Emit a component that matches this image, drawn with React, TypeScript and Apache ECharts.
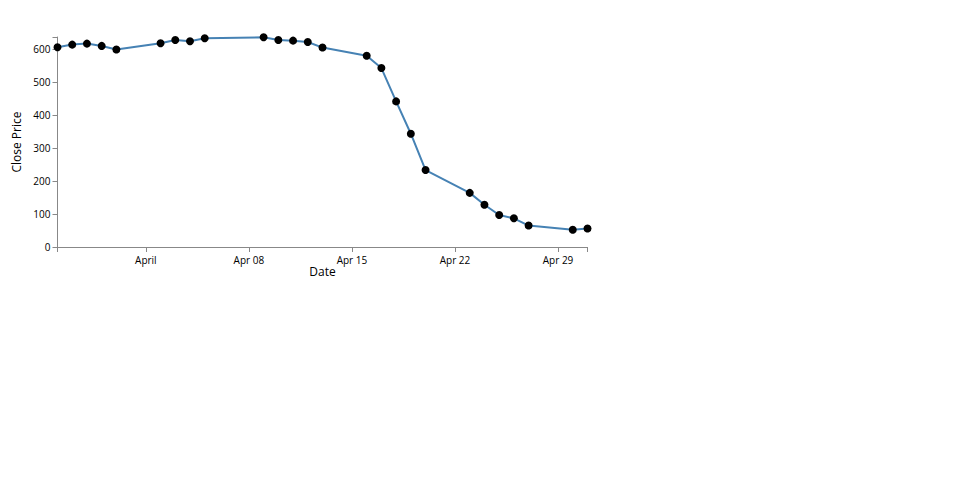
import React, { useEffect, useRef } from "react";
import * as echarts from "echarts";

const dates = [
  "2024-03-26", "2024-03-27", "2024-03-28", "2024-03-29", "2024-03-30",
  "2024-04-02", "2024-04-03", "2024-04-04", "2024-04-05",
  "2024-04-09", "2024-04-10", "2024-04-11", "2024-04-12", "2024-04-13",
  "2024-04-16", "2024-04-17", "2024-04-18", "2024-04-19", "2024-04-20",
  "2024-04-23", "2024-04-24", "2024-04-25", "2024-04-26", "2024-04-27",
  "2024-04-30", "2024-05-01",
];
const closePrices = [
  605, 613, 616, 609, 598,
  617, 627, 623, 632,
  635, 627, 625, 621, 604,
  579, 542, 441, 343, 233,
  164, 128, 97, 87, 65,
  52, 56,
];
const xDomain = ["2024-03-26", "2024-05-01"];
const xTickDates = ["2024-04-01", "2024-04-08", "2024-04-15", "2024-04-22", "2024-04-29"];
const xTickLabels = ["April", "Apr 08", "Apr 15", "Apr 22", "Apr 29"];
const yTicks = [0, 100, 200, 300, 400, 500, 600];
const yMax = 636;

export default function App() {
  const ref = useRef<HTMLDivElement>(null);
  useEffect(() => {
    if (!ref.current) return;
    const chart = echarts.init(ref.current, null, { renderer: "svg" });
    const ts = (d: string) => Date.parse(d);
    const labelMap: Record<number, string> = {};
    xTickDates.forEach((d, i) => (labelMap[ts(d)] = xTickLabels[i]));
    const font = "'Open Sans', 'Noto Sans', sans-serif";
    const axisColor = "#888";
    chart.setOption({
      animation: false,
      grid: { left: 57.5, top: 37, width: 530, height: 210, containLabel: false },
      xAxis: {
        type: "value",
        min: ts(xDomain[0]),
        max: ts(xDomain[1]),
        scale: true,
        name: "Date",
        nameLocation: "middle",
        nameGap: 14,
        nameTextStyle: { fontFamily: font, fontSize: 12, color: "#000" },
        axisLine: { show: true, lineStyle: { color: axisColor, width: 1 } },
        axisTick: {
          show: true,
          length: 5,
          lineStyle: { color: axisColor },
          customValues: [ts(xDomain[0]), ...xTickDates.map(ts), ts(xDomain[1])],
        },
        axisLabel: {
          customValues: xTickDates.map(ts),
          formatter: (v: number) => labelMap[v] ?? "",
          fontFamily: font,
          fontSize: 10,
          color: "#000",
          margin: 8,
        },
        splitLine: { show: false },
      },
      yAxis: {
        type: "value",
        min: 0,
        max: yMax,
        name: "Close Price",
        nameLocation: "middle",
        nameGap: 33,
        nameTextStyle: { fontFamily: font, fontSize: 12, color: "#000" },
        axisLine: { show: true, lineStyle: { color: axisColor, width: 1 } },
        axisTick: {
          show: true,
          length: 5,
          lineStyle: { color: axisColor },
          customValues: [...yTicks, yMax],
        },
        axisLabel: {
          customValues: yTicks,
          fontFamily: font,
          fontSize: 10,
          color: "#000",
          margin: 7,
        },
        splitLine: { show: false },
      },
      series: [
        {
          type: "line",
          data: dates.map((d, i) => [ts(d), closePrices[i]]),
          lineStyle: { color: "#4682b4", width: 2 },
          itemStyle: { color: "#000", borderWidth: 0 },
          symbol: "circle",
          symbolSize: 8,
          showSymbol: true,
          clip: false,
        },
      ],
    });
    return () => chart.dispose();
  }, []);
  return (
    <div
      ref={ref}
      style={{ position: "absolute", left: 0, top: 0, width: 960, height: 500 }}
    />
  );
}
